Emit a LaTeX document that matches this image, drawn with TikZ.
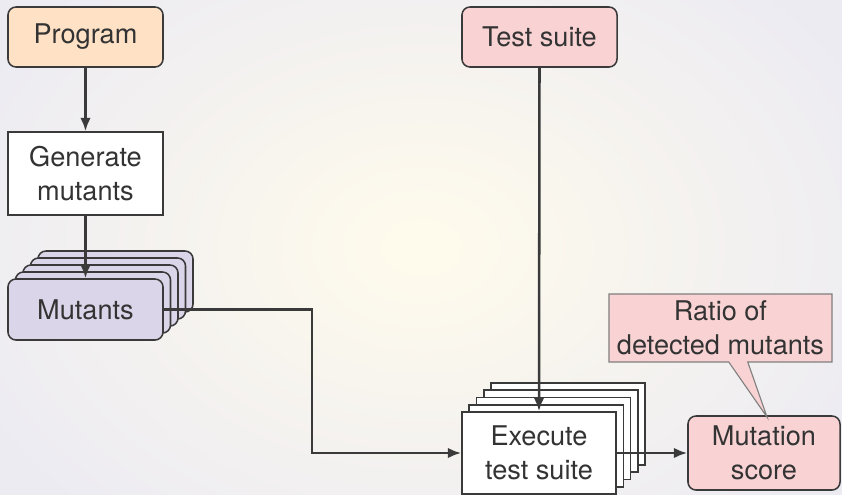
\documentclass[tikz,border=0pt]{standalone}
\usepackage{fontspec}
\setmainfont{TeX Gyre Heros}
\usetikzlibrary{shapes.callouts,arrows.meta}
\definecolor{txtgray}{HTML}{333333}
\definecolor{linegray}{HTML}{3A3A3A}
\definecolor{progfill}{HTML}{FFE1C6}
\definecolor{testfill}{HTML}{F9D3D4}
\definecolor{mutfill}{HTML}{DAD5E8}
\definecolor{bgin}{HTML}{FFFBEC}
\definecolor{bgout}{HTML}{ECEBF2}

\begin{document}
\begin{tikzpicture}[x=0.025cm, y=-0.025cm, >={Latex[length=9.5pt,width=7.5pt]}]
    \tikzstyle{box}=[rectangle,draw=linegray,line width=1.1pt,align=center,text=txtgray,
      font=\fontsize{19.3}{24}\selectfont,minimum width=3.875cm,minimum height=1.5cm,inner sep=0pt]
    \tikzstyle{rbox}=[box,rounded corners=0.2cm]
    \tikzstyle{arr}=[->,draw=linegray,line width=1.8pt]
    % background
    \useasboundingbox (0,0) rectangle (842,494);
    \shade[inner color=bgin, outer color=bgout] (-80,-120) rectangle (922,614);
    \node[rbox,fill=progfill] (program) at (85.5,37) {Program};
    \node[box,fill=white,minimum height=2.075cm] (generate) at (85.5,173.5) {Generate\\mutants};
    \foreach \k in {4,3,2,1}
      \node[rbox,fill=mutfill,minimum height=1.525cm] (mut\k) at (85.5+7.5*\k,309.5-7*\k) {};
    \node[rbox,fill=mutfill,minimum height=1.525cm] (mutants) at (85.5,309.5) {Mutants};
    \node[rbox,fill=testfill] (testsuite) at (539.5,37) {Test suite};
    \foreach \k in {4,3,2,1}
      \node[box,fill=white,minimum width=3.85cm,minimum height=2.05cm] (exe\k) at (539+7.25*\k,453-7.25*\k) {};
    \node[box,fill=white,minimum width=3.85cm,minimum height=2.05cm] (execute) at (539,453) {Execute\\test suite};
    \node[rbox,fill=testfill,minimum width=3.8cm,minimum height=1.85cm] (score) at (764,453) {Mutation\\score};
    \node[box,fill=testfill,draw=gray,line width=0.8pt,rectangle callout,minimum width=5.575cm,minimum height=1.7cm,
      callout absolute pointer={(767,417)},callout pointer width=0.475cm] (ratio) at (720.5,328) {Ratio of\\detected mutants};
    \coordinate (bend) at (312,0);
    \draw[arr] (program.south) -- (generate.north);
    \draw[arr] (generate.south) -- (mutants.north);
    \draw[arr] (testsuite.south) -- (execute.north);
    \draw[arr] (mutants.east) -- (mutants.east -| bend) |- (execute.west);
    \draw[arr] (execute.east) -- (score.west);
  \end{tikzpicture}
\end{document}
